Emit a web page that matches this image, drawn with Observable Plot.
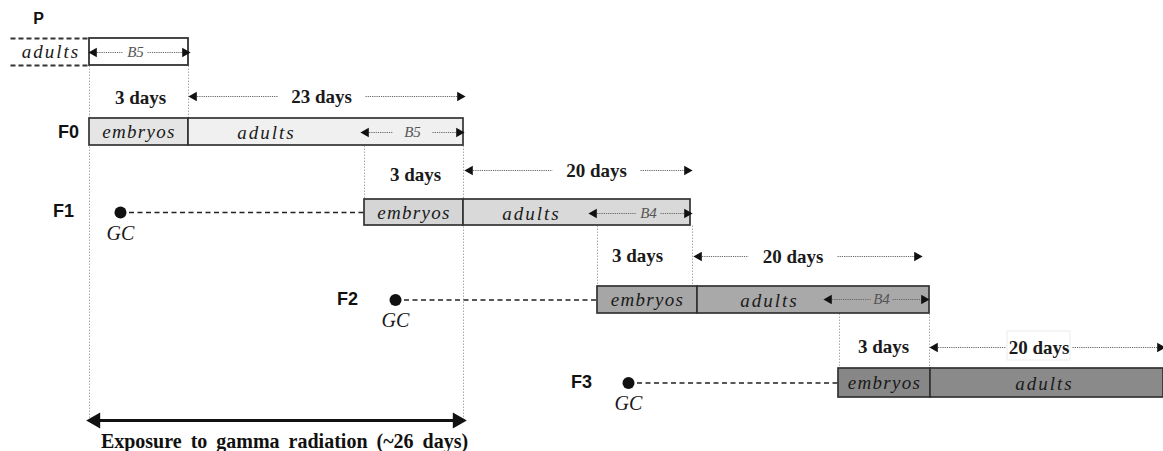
<!DOCTYPE html>
<html><head><meta charset="utf-8">
<script src="https://cdn.jsdelivr.net/npm/d3@7"></script>
<script src="https://cdn.jsdelivr.net/npm/@observablehq/plot@0.6"></script>
<style>html,body{margin:0;padding:0;background:#fff;}</style>
</head><body><div id="chart"></div>
<script>
// ---- schematic data (diagram units) ----
const generations = ["F0", "F1", "F2", "F3"];
const genLabelX = [68, 63, 347, 581];
const rowTop = [118, 199, 286, 368];
const rowBottom = [145, 225, 313, 397];
const embryoStart = [89, 364, 597, 838];
const embryoEnd = [188, 463, 697, 930];
const adultEnd = [463, 690, 929, 1163];
const adultLabelX = [266, 531, 769, 1044];
const embryoFill = ["#e5e5e5", "#d5d5d5", "#a6a6a6", "#878787"];
const adultFill = ["#f0f0f0", "#d9d9d9", "#a9a9a9", "#8a8a8a"];
const gcX = [120, 395, 628];           // GC points for F1..F3

const threeDayX = [140, 415, 637, 883];
const threeDayY = [97, 174, 255, 346];
const dayLabels = ["23 days", "20 days", "20 days", "20 days"];
const dayY = [96, 170, 256, 347];
const dayStart = [190, 466, 695, 931];
const dayEnd = [463, 690, 920, 1163];
const dayGapStart = [277, 552, 748, 1005];
const dayGapEnd = [365, 640, 837, 1072];

const bLabels = ["B5", "B5", "B4", "B4"];   // P, F0, F1, F2
const bY = [52, 132, 213, 299];
const bStart = [90, 362, 590, 825];
const bEnd = [188, 462, 690, 927];
const bGapStart = [123, 392, 636, 870];
const bGapEnd = [147, 432, 660, 892];

const guideX = [89, 188, 364, 463, 597, 692, 839, 929];
const guideTop = [65, 65, 145, 145, 225, 225, 313, 313];
const guideBottom = [420, 118, 199, 420, 286, 286, 368, 368];

const pLeft = 10, pStart = 89, pEnd = 188, pTop = 38, pBottom = 65;
const exposureStart = 89, exposureEnd = 463, exposureY = 420;
const exposureLabel = "Exposure to gamma radiation (~26 days)";

// ---- build tables ----
const rows = generations.map((g, i) => ({g, i, y0: rowTop[i], y1: rowBottom[i], ym: (rowTop[i] + rowBottom[i]) / 2}));
const embryoRects = rows.map(r => ({x1: embryoStart[r.i], x2: embryoEnd[r.i], y1: r.y0, y2: r.y1, fill: embryoFill[r.i], cx: (embryoStart[r.i] + embryoEnd[r.i]) / 2, cy: r.ym}));
const adultRects = rows.map(r => ({x1: embryoEnd[r.i], x2: adultEnd[r.i], y1: r.y0, y2: r.y1, fill: adultFill[r.i], cx: adultLabelX[r.i], cy: r.ym}));
const gcRows = gcX.map((x, k) => ({x, y: rows[k + 1].ym, x2: embryoStart[k + 1]}));

const segs = [];
const heads = [];
dayLabels.forEach((l, i) => {
  segs.push({x1: dayStart[i], x2: dayGapStart[i], y: dayY[i]});
  segs.push({x1: dayGapEnd[i], x2: dayEnd[i], y: dayY[i]});
  heads.push({x: dayStart[i], y: dayY[i], dir: -1});
  heads.push({x: dayEnd[i], y: dayY[i], dir: 1});
});
bLabels.forEach((l, i) => {
  segs.push({x1: bStart[i], x2: bGapStart[i], y: bY[i]});
  segs.push({x1: bGapEnd[i], x2: bEnd[i], y: bY[i]});
  heads.push({x: bStart[i], y: bY[i], dir: -1});
  heads.push({x: bEnd[i], y: bY[i], dir: 1});
});
const dayText = dayLabels.map((l, i) => ({l, x: (dayGapStart[i] + dayGapEnd[i]) / 2, y: dayY[i]}));
const bText = bLabels.map((l, i) => ({l, x: (bGapStart[i] + bGapEnd[i]) / 2, y: bY[i]}));
const threeText = threeDayX.map((x, i) => ({l: "3 days", x, y: threeDayY[i]}));
const guides = guideX.map((x, i) => ({x, y1: guideTop[i], y2: guideBottom[i]}));

const SERIF = "Liberation Serif";
const SANS = "Liberation Sans";
const it = {fontFamily: SERIF, fontStyle: "italic", fill: "#1a1a1a"};
const bd = {fontFamily: SERIF, fontWeight: "bold", fill: "#1a1a1a"};

const chart = Plot.plot({
  width: 1163, height: 451, margin: 0,
  x: {domain: [0, 1163], range: [0, 1163], axis: null},
  y: {domain: [0, 451], range: [0, 451], axis: null},
  marks: [
    Plot.link(guides, {x1: "x", x2: "x", y1: "y1", y2: "y2", stroke: "#aaa", strokeWidth: 1, strokeDasharray: "1.5,1.5"}),
    Plot.rect([0], {x1: dayGapStart[3] + 2, x2: dayGapEnd[3] - 2, y1: dayY[3] - 16, y2: dayY[3] + 13, fill: "none", stroke: "#ececec", strokeWidth: 1}),
    // P row
    Plot.link([pTop, pBottom], {x1: pLeft, x2: pStart, y1: d => d, y2: d => d, stroke: "#333", strokeWidth: 1.8, strokeDasharray: "5,3"}),
    Plot.rect([0], {x1: pStart, x2: pEnd, y1: pTop, y2: pBottom, fill: "white", stroke: "#333", strokeWidth: 1.8}),
    Plot.text(["adults"], {x: (pLeft + pStart) / 2 + 1, y: (pTop + pBottom) / 2, text: d => d, ...it, fontSize: 19}),
    Plot.text(["P"], {x: 38, y: 18, text: d => d, fontFamily: SANS, fontWeight: "bold", fontSize: 16, fill: "#111"}),
    // GC connectors and dots
    Plot.link(gcRows, {x1: "x", x2: "x2", y1: "y", y2: "y", stroke: "#222", strokeWidth: 1.4, strokeDasharray: "5,3.5"}),
    Plot.dot(gcRows, {x: "x", y: "y", r: 6, fill: "#111"}),
    Plot.text(gcRows, {x: "x", y: d => d.y + 21, text: () => "GC", ...it, fontSize: 20}),
    // generation boxes
    Plot.rect(embryoRects, {x1: "x1", x2: "x2", y1: "y1", y2: "y2", fill: "fill", stroke: "#333", strokeWidth: 1.7}),
    Plot.rect(adultRects, {x1: "x1", x2: "x2", y1: "y1", y2: "y2", fill: "fill", stroke: "#333", strokeWidth: 1.7}),
    Plot.text(embryoRects, {x: "cx", y: "cy", text: () => "embryos", ...it, fontSize: 19}),
    Plot.text(adultRects, {x: "cx", y: d => d.cy + 1, text: () => "adults", ...it, fontSize: 19}),
    Plot.text(rows, {x: d => genLabelX[d.i], y: d => d.ym + (d.i === 0 ? 0 : -1), text: "g", fontFamily: SANS, fontWeight: "bold", fontSize: 18, fill: "#111"}),
    // duration arrows
    Plot.link(segs, {x1: "x1", x2: "x2", y1: "y", y2: "y", stroke: "#666", strokeWidth: 1.2, strokeDasharray: "1.2,1"}),
    Plot.dot(heads.filter(d => d.dir < 0), {x: "x", y: "y", symbol: "triangle", rotate: -90, r: 3.6, dx: 3.5, fill: "#111"}),
    Plot.dot(heads.filter(d => d.dir > 0), {x: "x", y: "y", symbol: "triangle", rotate: 90, r: 3.6, dx: -3.5, fill: "#111"}),
    Plot.text(dayText, {x: "x", y: "y", text: "l", ...bd, fontSize: 19}),
    Plot.text(threeText, {x: "x", y: "y", text: "l", ...bd, fontSize: 19}),
    Plot.text(bText, {x: "x", y: "y", text: "l", fontFamily: SERIF, fontStyle: "italic", fontSize: 15, fill: "#555"}),
    // exposure arrow
    Plot.link([0], {x1: exposureStart + 6, x2: exposureEnd - 6, y1: exposureY, y2: exposureY, stroke: "#111", strokeWidth: 3.2}),
    Plot.dot([exposureStart], {x: d => d, y: exposureY, symbol: "triangle", rotate: -90, r: 6, dx: 6, fill: "#111"}),
    Plot.dot([exposureEnd], {x: d => d, y: exposureY, symbol: "triangle", rotate: 90, r: 6, dx: -6, fill: "#111"}),
    Plot.text([exposureLabel], {x: (exposureStart + exposureEnd) / 2 + 8, y: exposureY + 21, text: d => d, ...bd, fontSize: 20, fill: "#111"})
  ]
});
const byText = t => d3.select(chart).selectAll("text").filter(function () { return this.textContent === t; });
byText("adults").attr("letter-spacing", 2);
byText("embryos").attr("letter-spacing", 1.3);
byText(exposureLabel).attr("word-spacing", 4);
document.getElementById("chart").appendChild(chart);
</script>
</body></html>
